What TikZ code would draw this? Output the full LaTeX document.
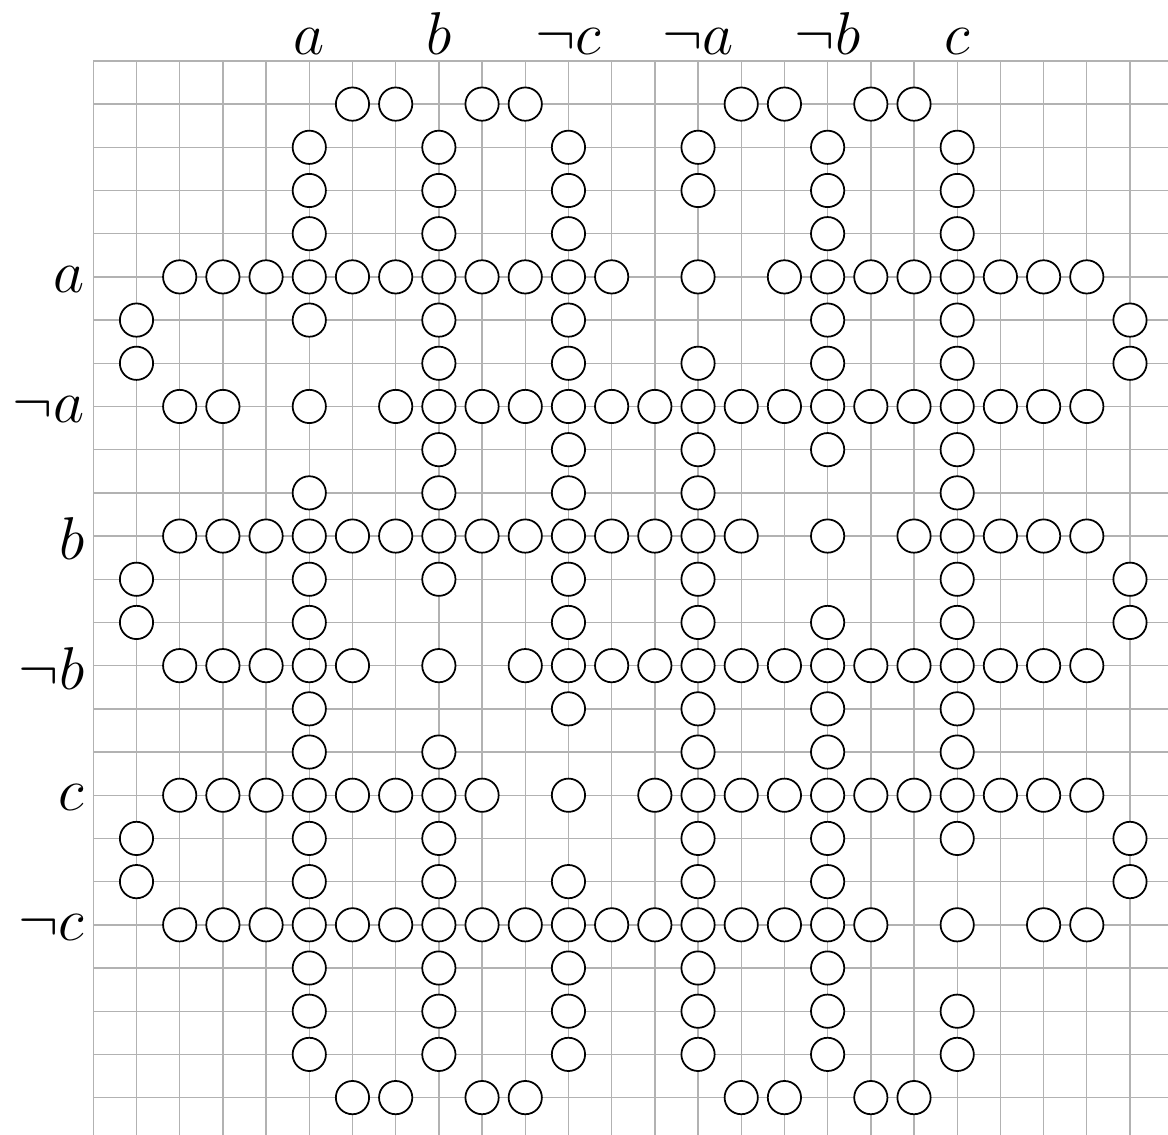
\documentclass[tikz,border=0pt]{standalone}
\usepackage{tikz}
\usetikzlibrary{positioning}

\begin{document}
\begin{tikzpicture}[
    gridline/.style={black!30, line width=0.9pt},
    dot/.style={circle, draw=black, fill=white, line width=1.15pt, minimum size=0.77cm, inner sep=0pt},
    lit/.style={font=\Huge, scale=1.6, inner sep=0pt},
]
\useasboundingbox (-2.16,-24.86) rectangle (24.88,1.41);

% === GRID ===
\draw[gridline] (0,-24.9) grid (24.9,0);

% === LITERAL LABELS (top and left) ===
\foreach \i/\lab in {5/a, 8/b, 11/\neg c, 14/\neg a, 17/\neg b, 20/c}{
    \node[lit, anchor=base] (top-\i) at (\i, 0.14) {$\lab$};
}
\foreach \j/\lab in {5/a, 8/\neg a, 11/b, 14/\neg b, 17/c, 20/\neg c}{
    \node[lit, anchor=east] (left-\j) at (-0.2, -\j-0.06) {$\lab$};
}

% === CIRCLES (row / columns) ===
\foreach \r/\cols in {
    1/{6,7,9,10,15,16,18,19},
    2/{5,8,11,14,17,20},
    3/{5,8,11,14,17,20},
    4/{5,8,11,17,20},
    5/{2,...,12,14,16,17,...,23},
    6/{1,5,8,11,17,20,24},
    7/{1,8,11,14,17,20,24},
    8/{2,3,5,7,8,...,23},
    9/{8,11,14,17,20},
    10/{5,8,11,14,20},
    11/{2,...,15,17,19,20,...,23},
    12/{1,5,8,11,14,20,24},
    13/{1,5,11,14,17,20,24},
    14/{2,...,6,8,10,11,...,23},
    15/{5,11,14,17,20},
    16/{5,8,14,17,20},
    17/{2,...,9,11,13,14,...,23},
    18/{1,5,8,14,17,20,24},
    19/{1,5,8,11,14,17,24},
    20/{2,...,18,20,22,23},
    21/{5,8,11,14,17},
    22/{5,8,11,14,17,20},
    23/{5,8,11,14,17,20},
    24/{6,7,9,10,15,16,18,19}%
}{
    \foreach \c in \cols {
        \node[dot] (cell-\c-\r) at (\c, -\r) {};
    }
}

\end{tikzpicture}
\end{document}
